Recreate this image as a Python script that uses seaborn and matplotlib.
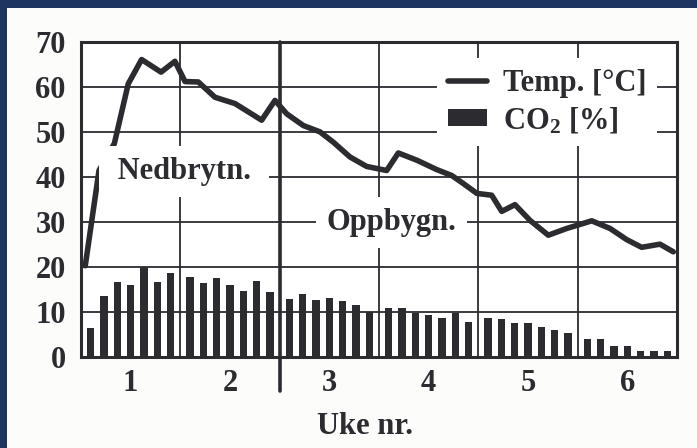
"""
Kompostering: temperatur og CO2 per dag, uke 1-6
"""

import matplotlib

matplotlib.use("Agg")
import matplotlib.pyplot as plt
import numpy as np
import pandas as pd
import seaborn as sns
from matplotlib.lines import Line2D
from matplotlib.patches import Patch, Rectangle

# Stil
sns.set_theme(style="white")
plt.rcParams["font.family"] = ["Liberation Serif", "DejaVu Serif"]
plt.rcParams["font.weight"] = "bold"
plt.rcParams["axes.labelweight"] = "bold"
plt.rcParams["mathtext.fontset"] = "custom"
plt.rcParams["mathtext.rm"] = "Liberation Serif:bold"
plt.rcParams["mathtext.default"] = "rm"

INK = "#2b2b30"
NAVY = "#1e3461"
FS = 22

# ============================================
# Data
# ============================================
uker = ["1", "2", "3", "4", "5", "6"]

# CO2 [%], en søyle per dag (6 uker x 7 dager)
co2 = [
    6.4, 13.5, 16.6, 15.9, 20.0, 16.6, 18.5,
    17.7, 16.4, 17.5, 15.9, 14.6, 16.8, 14.4,
    12.7, 14.0, 12.6, 13.1, 12.3, 11.4, 9.8,
    10.7, 10.7, 9.7, 9.2, 8.5, 9.7, 7.7,
    8.6, 8.3, 7.4, 7.4, 6.5, 6.0, 5.2,
    4.0, 4.0, 2.4, 2.4, 1.2, 1.2, 1.2,
]

# Temperatur [°C] mot dag
temp_dag = [
    0.3, 1.27, 2.35, 3.33, 4.27, 5.64, 6.62, 7.33, 8.27, 9.44, 10.85,
    12.73, 13.67, 14.5, 15.67, 16.84, 17.78, 18.96, 20.13, 21.54, 22.36,
    23.66, 25.07, 26.12, 26.94, 27.9, 28.94, 29.65, 30.58, 31.64, 32.93,
    34.23, 35.17, 35.99, 37.28, 38.46, 39.51, 40.8, 41.74,
]
temp = [
    20.2, 41.4, 47.4, 60.7, 66.1, 63.3, 65.7, 61.2, 61.1, 57.7, 56.3,
    52.6, 57.0, 54.0, 51.4, 50.0, 47.7, 44.4, 42.3, 41.4, 45.3,
    43.7, 41.6, 40.3, 38.5, 36.3, 35.9, 32.3, 33.8, 30.3, 27.0,
    28.5, 29.4, 30.2, 28.5, 26.0, 24.3, 25.0, 23.3,
]

# Søylene står samlet midt i hver uke
dag = np.arange(len(co2))
bar_x = 7 * (dag // 7) + 3.5 + (dag % 7 - 3) * 0.94

df_co2 = pd.DataFrame({"x": bar_x, "co2": co2})
df_temp = pd.DataFrame({"dag": temp_dag, "temp": temp})

# ============================================
# Figur
# ============================================
fig = plt.figure(figsize=(6.97, 4.48), dpi=100)
fig.patch.set_facecolor(NAVY)
fig.add_artist(
    Rectangle(
        (7 / 697, 0), 1, 1 - 8 / 448,
        transform=fig.transFigure, fc="#fcfcfb", ec="none", zorder=-1,
    )
)
ax = fig.add_axes([81 / 697, 1 - 356.5 / 448, 596 / 697, 314.5 / 448])
ax.set_facecolor("white")

sns.barplot(
    data=df_co2, x="x", y="co2", native_scale=True, width=0.5 / 0.94,
    color=INK, saturation=1, errorbar=None, linewidth=0, ax=ax, zorder=2,
)
sns.lineplot(data=df_temp, x="dag", y="temp", color=INK, lw=4, ax=ax, zorder=3)

# Skille mellom nedbrytning og oppbygning
ax.axvline(14, ymin=-0.11, ymax=1, color=INK, lw=2.6, clip_on=False, zorder=2.5)

ax.set_xlim(0, 42)
ax.set_ylim(0, 70)
ax.set_yticks(range(0, 71, 10))
ax.set_xticks([3.5 + 7 * i for i in range(len(uker))])
ax.set_xticklabels(uker)
ax.set_xticks([7, 14, 21, 28, 35], minor=True)
ax.grid(True, which="minor", axis="x", color=INK, lw=1.3)
ax.grid(True, which="major", axis="y", color=INK, lw=1.3)
ax.grid(False, which="major", axis="x")
ax.set_axisbelow(True)

ax.tick_params(which="both", length=0, labelsize=FS, labelcolor=INK)
ax.tick_params(axis="y", pad=11)
ax.tick_params(axis="x", pad=9)
for s in ax.spines.values():
    s.set_visible(True)
    s.set_color(INK)
    s.set_linewidth(2.2)

ax.set_xlabel("Uke nr.", fontsize=FS, color=INK, fontweight="bold")
ax.xaxis.set_label_coords(0.477, -0.175)
ax.set_ylabel("")

box = dict(boxstyle="square,pad=0.35", fc="white", ec="none")
ax.text(7.26, 41.2, " Nedbrytn. ", ha="center", va="center", fontsize=FS,
        color=INK, bbox=box, zorder=5)
ax.text(21.9, 29.8, "Oppbygn.", ha="center", va="center", fontsize=FS,
        color=INK, bbox=box, zorder=5)

handles = [Line2D([], [], color=INK, lw=4), Patch(fc=INK, ec="none")]
leg = ax.legend(
    handles, ["Temp. [°C]", "CO$_2$ [%]"],
    loc="upper left", bbox_to_anchor=(0.597, 0.949), borderaxespad=0,
    frameon=True, fancybox=False, framealpha=1, edgecolor="none",
    facecolor="white", fontsize=FS, handlelength=1.3, handleheight=0.47,
    handletextpad=0.5, labelspacing=0.25, borderpad=0.35,
)
for t in leg.get_texts():
    t.set_color(INK)
leg.set_zorder(6)

plt.savefig("out.png", dpi=100)
plt.close()
